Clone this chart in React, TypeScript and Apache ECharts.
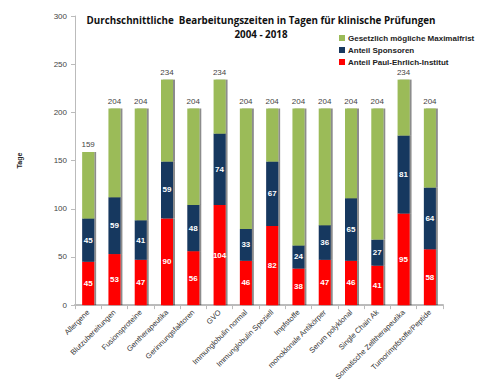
import React, { useEffect, useRef } from "react";
import * as echarts from "echarts";

const categories = [
  "Allergene",
  "Blutzubereitungen",
  "Fusionsproteine",
  "Gentherapeutika",
  "Gerinnungsfaktoren",
  "GVO",
  "Immunglobulin normal",
  "Immunglobulin Speziell",
  "Impfstoffe",
  "monoklonale Antikörper",
  "Serum polyklonal",
  "Single Chain Ak",
  "Somatische Zelltherapeutika",
  "Tumorimpfstoffe/Peptide",
];
const pei = [45, 53, 47, 90, 56, 104, 46, 82, 38, 47, 46, 41, 95, 58];
const sponsor = [45, 59, 41, 59, 48, 74, 33, 67, 24, 36, 65, 27, 81, 64];
const maxTotal = [159, 204, 204, 234, 204, 234, 204, 204, 204, 204, 204, 204, 234, 204];
const rest = maxTotal.map((t, i) => t - pei[i] - sponsor[i]);

export default function App() {
  const ref = useRef<HTMLDivElement>(null);
  useEffect(() => {
    const chart = echarts.init(ref.current!, undefined, { renderer: "svg" });
    const shadow = {
      shadowColor: "rgba(0,0,0,0.45)",
      shadowOffsetX: 2,
      shadowOffsetY: 0,
      shadowBlur: 0,
    };
    const inner = {
      show: true,
      position: "inside",
      color: "#fff",
      fontSize: 8,
      fontWeight: "bold",
      fontFamily: "Liberation Sans",
    };
    chart.setOption({
      animation: false,
      title: {
        text: "Durchschnittliche  Bearbeitungszeiten in Tagen für klinische Prüfungen\n2004 - 2018",
        left: 248,
        textAlign: "center",
        top: 0,
        textStyle: {
          fontSize: 9.8,
          fontWeight: "bold",
          color: "#111",
          fontFamily: "Open Sans",
          lineHeight: 14,
        },
      },
      legend: {
        orient: "vertical",
        left: 326,
        top: 21,
        itemWidth: 6,
        itemHeight: 6,
        itemGap: 4,
        icon: "rect",
        data: ["Gesetzlich mögliche Maximalfrist", "Anteil Sponsoren", "Anteil Paul-Ehrlich-Institut"],
        textStyle: {
          fontSize: 8,
          fontWeight: "bold",
          color: "#222",
          fontFamily: "Liberation Sans",
          padding: [0, 0, 0, -2],
        },
      },
      grid: { left: 64, right: 46, top: 8, bottom: 72 },
      xAxis: {
        type: "category",
        data: categories,
        axisLine: { lineStyle: { color: "#bbb", width: 2 } },
        axisTick: { show: true, lineStyle: { color: "#bbb" }, length: 4 },
        axisLabel: {
          interval: 0,
          rotate: 45,
          fontSize: 7.5,
          color: "#333",
          fontFamily: "Liberation Sans",
          margin: 6,
        },
      },
      yAxis: {
        type: "value",
        min: 0,
        max: 300,
        interval: 50,
        name: "Tage",
        nameLocation: "middle",
        nameGap: 52,
        nameTextStyle: { fontSize: 7, fontWeight: "bold", color: "#222", fontFamily: "Liberation Sans" },
        axisLine: { show: true, lineStyle: { color: "#bbb" } },
        axisTick: { show: true, lineStyle: { color: "#bbb" }, length: 4 },
        splitLine: { show: false },
        axisLabel: { fontSize: 8, color: "#444", fontFamily: "Liberation Sans", margin: 8 },
      },
      series: [
        {
          name: "Anteil Paul-Ehrlich-Institut",
          type: "bar",
          stack: "t",
          barWidth: 12,
          data: pei,
          itemStyle: { color: "#FF0000", ...shadow },
          label: inner,
        },
        {
          name: "Anteil Sponsoren",
          type: "bar",
          stack: "t",
          barWidth: 12,
          data: sponsor,
          itemStyle: { color: "#17375E", ...shadow },
          label: inner,
        },
        {
          name: "Gesetzlich mögliche Maximalfrist",
          type: "bar",
          stack: "t",
          barWidth: 12,
          data: rest,
          itemStyle: { color: "#9BBB59", ...shadow },
          label: {
            show: true,
            position: "top",
            distance: 3,
            color: "#444",
            fontSize: 8,
            fontFamily: "Liberation Sans",
            formatter: (p: any) => String(maxTotal[p.dataIndex]),
          },
        },
      ],
    });
    return () => chart.dispose();
  }, []);
  return <div ref={ref} style={{ width: 481, height: 375 }} />;
}
